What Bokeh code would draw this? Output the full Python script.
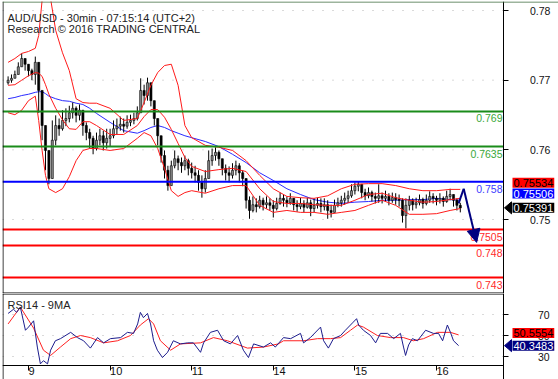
from bokeh.plotting import figure
from bokeh.layouts import column
from bokeh.models import (Range1d, LinearAxis, FixedTicker, Span, Label,
                          Arrow, NormalHead, PolyAnnotation, ColumnDataSource,
                          NumeralTickFormatter)
from bokeh.embed import file_html
from bokeh.resources import INLINE

FONT = "Liberation Sans"

# ---------------- data ----------------
# hourly bars, x = hours from the start of the 9th (weekend removed)
bar_x = list(range(-6, 128))
first_open = 0.7735
close = [
    0.7739, 0.7742, 0.7748, 0.7760, 0.7773, 0.7764,
    0.7754, 0.7748, 0.7767, 0.7723, 0.7668, 0.7629, 0.7585, 0.7645, 0.7668, 0.7663, 0.7676, 0.7679,
    0.7688, 0.7695, 0.7684, 0.7692, 0.7668, 0.7657, 0.7648, 0.7632, 0.7645, 0.7652, 0.7641, 0.7648,
    0.7652, 0.7663, 0.7667, 0.7670, 0.7667, 0.7673, 0.7676, 0.7679, 0.7688, 0.7723, 0.7715, 0.7735,
    0.7707, 0.7679, 0.7652, 0.7621, 0.7598, 0.7574, 0.7605, 0.7616, 0.7610, 0.7605, 0.7613, 0.7601,
    0.7594, 0.7590, 0.7579, 0.7569, 0.7585, 0.7613, 0.7621, 0.7626, 0.7616, 0.7601, 0.7594, 0.7590,
    0.7598, 0.7605, 0.7594, 0.7585, 0.7551, 0.7535, 0.7544, 0.7541, 0.7551, 0.7544, 0.7547, 0.7543,
    0.7538, 0.7546, 0.7554, 0.7551, 0.7547, 0.7554, 0.7544, 0.7541, 0.7546, 0.7540, 0.7547, 0.7538,
    0.7543, 0.7546, 0.7541, 0.7544, 0.7535, 0.7532, 0.7543, 0.7547, 0.7551, 0.7554, 0.7558, 0.7566,
    0.7573, 0.7576, 0.7563, 0.7558, 0.7563, 0.7557, 0.7554, 0.7558, 0.7554, 0.7557, 0.7551, 0.7555,
    0.7552, 0.7551, 0.7527, 0.7543, 0.7551, 0.7544, 0.7547, 0.7552, 0.7546, 0.7551, 0.7557, 0.7554,
    0.7551, 0.7554, 0.7549, 0.7557, 0.7560, 0.7551, 0.7543, 0.7539,
]
high = [
    0.7745, 0.7748, 0.7754, 0.7767, 0.7781, 0.7773,
    0.7764, 0.7757, 0.7776, 0.7751, 0.7699, 0.7668, 0.7629, 0.7676, 0.7684, 0.7679, 0.7692, 0.7695,
    0.7699, 0.7704, 0.7698, 0.7701, 0.7688, 0.7673, 0.7663, 0.7652, 0.7657, 0.7663, 0.7660, 0.7663,
    0.7663, 0.7676, 0.7679, 0.7682, 0.7679, 0.7684, 0.7685, 0.7688, 0.7698, 0.7742, 0.7732, 0.7743,
    0.7723, 0.7707, 0.7676, 0.7652, 0.7629, 0.7605, 0.7613, 0.7629, 0.7621, 0.7618, 0.7621, 0.7616,
    0.7610, 0.7605, 0.7598, 0.7590, 0.7598, 0.7629, 0.7632, 0.7634, 0.7629, 0.7616, 0.7607, 0.7604,
    0.7609, 0.7613, 0.7609, 0.7598, 0.7582, 0.7557, 0.7557, 0.7554, 0.7558, 0.7555, 0.7557, 0.7554,
    0.7551, 0.7555, 0.7563, 0.7560, 0.7557, 0.7562, 0.7554, 0.7551, 0.7555, 0.7551, 0.7555, 0.7552,
    0.7554, 0.7555, 0.7554, 0.7554, 0.7551, 0.7544, 0.7552, 0.7555, 0.7558, 0.7563, 0.7566, 0.7576,
    0.7579, 0.7580, 0.7576, 0.7569, 0.7571, 0.7566, 0.7563, 0.7576, 0.7563, 0.7566, 0.7562, 0.7563,
    0.7562, 0.7560, 0.7554, 0.7554, 0.7558, 0.7554, 0.7555, 0.7560, 0.7555, 0.7560, 0.7565, 0.7562,
    0.7558, 0.7562, 0.7557, 0.7566, 0.7569, 0.7560, 0.7554, 0.7547,
]
low = [
    0.7732, 0.7735, 0.7742, 0.7751, 0.7764, 0.7754,
    0.7745, 0.7739, 0.7732, 0.7688, 0.7645, 0.7598, 0.7576, 0.7613, 0.7637, 0.7652, 0.7660, 0.7667,
    0.7673, 0.7679, 0.7673, 0.7676, 0.7652, 0.7645, 0.7632, 0.7623, 0.7629, 0.7637, 0.7629, 0.7632,
    0.7635, 0.7648, 0.7654, 0.7660, 0.7657, 0.7663, 0.7667, 0.7670, 0.7676, 0.7688, 0.7701, 0.7707,
    0.7698, 0.7668, 0.7637, 0.7610, 0.7585, 0.7566, 0.7582, 0.7601, 0.7598, 0.7594, 0.7598, 0.7590,
    0.7585, 0.7579, 0.7566, 0.7555, 0.7563, 0.7585, 0.7605, 0.7613, 0.7605, 0.7590, 0.7582, 0.7579,
    0.7585, 0.7590, 0.7579, 0.7573, 0.7538, 0.7522, 0.7532, 0.7532, 0.7538, 0.7535, 0.7538, 0.7535,
    0.7524, 0.7535, 0.7544, 0.7541, 0.7540, 0.7544, 0.7535, 0.7533, 0.7537, 0.7532, 0.7538, 0.7526,
    0.7532, 0.7538, 0.7532, 0.7535, 0.7522, 0.7524, 0.7532, 0.7540, 0.7541, 0.7544, 0.7547, 0.7555,
    0.7560, 0.7565, 0.7554, 0.7551, 0.7554, 0.7549, 0.7546, 0.7547, 0.7546, 0.7549, 0.7543, 0.7547,
    0.7544, 0.7541, 0.7516, 0.7507, 0.7535, 0.7535, 0.7538, 0.7543, 0.7538, 0.7543, 0.7547, 0.7546,
    0.7543, 0.7546, 0.7541, 0.7547, 0.7551, 0.7541, 0.7535, 0.7532,
]

band_x = [-6, -4, -2, 0, 2, 3, 4, 5, 6, 8, 10, 12, 14, 16, 18, 20, 24, 28, 32, 34, 36, 38,
          40, 42, 44, 46, 48, 52, 56, 60, 64, 68, 72, 76, 80, 84, 88, 92, 96, 100, 104,
          108, 112, 116, 120, 124, 127]
bb_upper = [0.7767, 0.7773, 0.7781, 0.7784, 0.7789, 0.7809, 0.7864, 0.7887, 0.7883,
            0.7817, 0.7782, 0.7754, 0.7710, 0.7704, 0.7703, 0.7703,
            0.7695, 0.7676, 0.7679, 0.7704, 0.7731, 0.7751, 0.7762, 0.7764, 0.7731, 0.7668, 0.7649,
            0.7637, 0.7634, 0.7629, 0.7613, 0.7590, 0.7569, 0.7557, 0.7555, 0.7554, 0.7558,
            0.7569, 0.7576, 0.7577, 0.7577, 0.7574, 0.7569, 0.7566, 0.7566, 0.7568, 0.7568]
bb_middle = [0.7731, 0.7732, 0.7739, 0.7746, 0.7751, 0.7750, 0.7745, 0.7732, 0.7717,
             0.7695, 0.7677, 0.7663, 0.7662, 0.7674, 0.7674, 0.7668,
             0.7654, 0.7654, 0.7668, 0.7682, 0.7693, 0.7693, 0.7681, 0.7662, 0.7640, 0.7618, 0.7604,
             0.7596, 0.7599, 0.7601, 0.7596, 0.7569, 0.7549, 0.7546, 0.7546, 0.7544, 0.7543,
             0.7543, 0.7551, 0.7560, 0.7562, 0.7555, 0.7551, 0.7548, 0.7549, 0.7552, 0.7554]
bb_lower = [0.7688, 0.7685, 0.7692, 0.7707, 0.7714, 0.7676, 0.7629, 0.7590, 0.7569,
            0.7563, 0.7569, 0.7588, 0.7613, 0.7629, 0.7632, 0.7632,
            0.7629, 0.7632, 0.7648, 0.7657, 0.7652, 0.7632, 0.7601, 0.7566, 0.7557, 0.7563, 0.7566,
            0.7562, 0.7569, 0.7574, 0.7574, 0.7543, 0.7532, 0.7535, 0.7532, 0.7532, 0.7529,
            0.7532, 0.7535, 0.7543, 0.7551, 0.7543, 0.7529, 0.7529, 0.7530, 0.7535, 0.7538]
ma_blue = [0.7710, 0.7712, 0.7715, 0.7717, 0.7720, 0.7721, 0.7721, 0.7718, 0.7714,
           0.7710, 0.7707, 0.7706, 0.7703, 0.7701, 0.7695, 0.7687,
           0.7673, 0.7660, 0.7656, 0.7660, 0.7665, 0.7668, 0.7665, 0.7660, 0.7656, 0.7652, 0.7649,
           0.7643, 0.7635, 0.7623, 0.7610, 0.7594, 0.7582, 0.7569, 0.7560, 0.7552, 0.7548,
           0.7546, 0.7548, 0.7549, 0.7551, 0.7551, 0.7552, 0.7552, 0.7554, 0.7552, 0.7551]

levels = [0.769, 0.7635, 0.758, 0.7505, 0.748, 0.743]
level_kinds = ["green", "green", "blue", "red", "red", "red"]

forecast_x = [126.5, 128.0, 131.8]
forecast_y = [0.7546, 0.7569, 0.7485]

price_ticks = [0.75, 0.76, 0.77, 0.78]
last_price = 0.75391
last_bb_mid = 0.75534
last_ma = 0.75506

rsi_x = [-6, -4.4, -3.5, -2.4, -0.9, 0, 1.5, 2.6, 3.5, 4.4, 5.6, 6.5, 7.9, 9.4, 12.4,
         14.4, 16.2, 18.2, 20.3, 22.1, 24.1, 27.1, 29.1, 30.9, 32.1, 32.9, 33.8, 35, 35.9,
         36.8, 37.9, 39.4, 40.9, 42.6, 44.7, 46.8, 48.5, 50.6, 51.5, 53.5, 55.6, 57.4, 59.4,
         61.5, 63.2, 64.7, 66.2, 69.1, 71.2, 72.6, 75, 77.1, 80, 80.9, 82.9, 85.9, 86.8, 88.2,
         89.7, 91.8, 93.2, 95.3, 96.5, 97.1, 98.5, 100.6, 102.1, 103.5, 105.6, 107.4, 109.4,
         110.3, 110.9, 111.8, 112.9, 114.4, 116.8, 119.1, 120.6, 121.8, 123.2, 124.1, 125, 126.5]
rsi = [71, 75, 72, 77, 55, 58, 64, 39, 23, 26, 23, 36, 45, 47, 53,
       48, 45, 38, 48, 43, 47, 48, 53, 52, 61, 72, 67, 71, 61,
       45, 36, 29, 34, 45, 42, 43, 43, 34, 43, 53, 55, 45, 42,
       50, 36, 29, 42, 39, 43, 39, 48, 47, 52, 43, 48, 58, 45, 38,
       47, 50, 55, 62, 66, 60, 55, 50, 43, 52, 52, 47, 52,
       39, 31, 41, 47, 45, 55, 52, 52, 45, 60, 53, 45, 40.35]
rsi_ma_x = [-6, -2.4, 1.5, 4.4, 6.5, 9.4, 12.4, 15.3, 18.2, 22.1, 26.2, 30, 32.9, 35.3,
            36.8, 38.8, 41.8, 44.7, 50.6, 54.4, 58.5, 64.4, 69.1, 73.5, 75, 80.9, 85, 88.8,
            91.8, 94.7, 96.8, 98.5, 102.6, 106.5, 110.3, 113.2, 116.2, 120.3, 124.1, 126.5]
rsi_ma = [61, 77, 57, 36, 31, 39, 47, 50, 48, 43, 45, 50, 60, 66,
          61, 45, 36, 42, 43, 48, 45, 38, 39, 42, 45, 45, 47, 47,
          48, 55, 60, 58, 50, 48, 48, 45, 47, 53, 53, 50.56]
rsi_ticks = [30, 50, 70]
last_rsi = 40.3483
last_rsi_ma = 50.5554

day_ticks = [0, 24, 48, 72, 96, 120]
day_labels = ["9", "10", "11", "14", "15", "16"]

# ---------------- layout / styling ----------------
NAVY = "#000080"
LEVEL_LINE = {"green": "#1a8c1a", "blue": "#0000ff", "red": "#ff0000"}
LEVEL_TEXT = {"green": "#3aa83a", "blue": "#3c3cff", "red": "#ff2a2a"}
W = 558
X0, X1 = -7.647, 155.882       # frame spans the whole width
X_AXIS = 139.85                # where the price axis sits
X_LEFT = -7.5                  # left border line
MAIN_Y = (0.740496, 0.786227)
MAIN_FRAME_H = 292
TICK_Y = (0.739378, 0.781292)  # scale used by the printed price axis
RSI_Y = (7.143, 90.0)
RSI_FRAME_H = 87
RSI_BASE = 21.9                # where the time axis sits
DOTS = "#b4b4b4"


def base_fig(height, yr, top):
    f = figure(width=W, height=height, x_range=Range1d(X0, X1), y_range=Range1d(*yr),
               output_backend="svg", toolbar_location=None,
               x_axis_location=None, y_axis_location=None,
               min_border_left=2, min_border_right=0, min_border_top=top, min_border_bottom=0)
    f.outline_line_color = None
    f.background_fill_color = "white"
    f.border_fill_color = "white"
    f.xgrid.visible = False
    f.ygrid.visible = False
    f.add_layout(Span(location=X_LEFT, dimension="height", line_color="black", line_width=1))
    return f


def value_box(fig, value, yrange, frame_h, text, fill, color, y_off=0, pointer=False):
    fig.add_layout(Label(x=510, x_units="screen", y=value, y_offset=y_off, text=text,
                         text_align="left", text_baseline="middle",
                         background_fill_color=fill, background_fill_alpha=1.0,
                         text_color=color, text_font=FONT, text_font_size="11px", padding=1))
    if pointer:
        sy = (value - yrange[0]) / (yrange[1] - yrange[0]) * frame_h + y_off
        fig.add_layout(PolyAnnotation(xs=[502, 509, 509], ys=[sy, sy + 6, sy - 6],
                                      xs_units="screen", ys_units="screen",
                                      fill_color=fill, fill_alpha=1.0, line_color=fill,
                                      line_alpha=1.0))


# ---------------- main price panel ----------------
p = base_fig(293, MAIN_Y, 1)
p.extra_y_ranges = {"ticks": Range1d(*TICK_Y)}

yax = LinearAxis(y_range_name="ticks", fixed_location=X_AXIS,
                 ticker=FixedTicker(ticks=price_ticks),
                 formatter=NumeralTickFormatter(format="0.00"),
                 major_tick_out=5, major_tick_in=0, minor_tick_out=0, minor_tick_in=0,
                 major_tick_line_color="black", axis_line_color="black",
                 major_label_standoff=21, major_label_text_font=FONT,
                 major_label_text_font_size="10.5px", major_label_text_color="#111111")
p.add_layout(yax, "right")

# top border (full width) and bottom border (up to the axis)
p.add_layout(Span(location=MAIN_Y[1] - 0.5 / 6385, dimension="width",
                  line_color="#3d6b3d", line_width=1))
p.segment(x0=[X0], y0=[MAIN_Y[0] + 0.5 / 6385], x1=[X_AXIS], y1=[MAIN_Y[0] + 0.5 / 6385],
          line_color="black", line_width=1)
# dotted guide lines at the printed price ticks
p.segment(x0=[X0] * len(price_ticks), y0=price_ticks, x1=[X_AXIS] * len(price_ticks),
          y1=price_ticks, y_range_name="ticks", line_color=DOTS, line_dash="1 9", line_width=1)

opens = [first_open] + close[:-1]
tops = [max(o, c) for o, c in zip(opens, close)]
bots = [min(o, c) for o, c in zip(opens, close)]
his = [max(h, t) for h, t in zip(high, tops)]
los = [min(l, b) for l, b in zip(low, bots)]
fills = ["#8a8a8a" if c >= o else "#000000" for o, c in zip(opens, close)]
src = ColumnDataSource(dict(x=bar_x, top=tops, bottom=bots, high=his, low=los, fill=fills))

p.line(band_x, ma_blue, line_color="#2a2aff", line_width=1)
p.segment(x0="x", y0="low", x1="x", y1="high", source=src, line_color="black", line_width=1)
p.vbar(x="x", width=0.62, top="top", bottom="bottom", source=src,
       fill_color="fill", line_color="black", line_width=0.6)
for band in (bb_upper, bb_middle, bb_lower):
    p.line(band_x, band, line_color="#ff1a1a", line_width=1)

p.segment(x0=[X0] * len(levels), y0=levels, x1=[X_AXIS] * len(levels), y1=levels,
          line_color=[LEVEL_LINE[k] for k in level_kinds], line_width=2)
for v, kind in zip(levels, level_kinds):
    p.add_layout(Label(x=500, x_units="screen", y=v, y_offset=-7, text=f"{v:g}",
                       text_align="right", text_baseline="alphabetic",
                       text_color=LEVEL_TEXT[kind], text_font=FONT, text_font_size="10.5px"))

p.line(forecast_x[:2], forecast_y[:2], line_color=NAVY, line_width=2)
p.add_layout(Arrow(end=NormalHead(size=13, fill_color=NAVY, line_color=NAVY),
                   x_start=forecast_x[1], y_start=forecast_y[1],
                   x_end=forecast_x[2], y_end=forecast_y[2],
                   line_color=NAVY, line_width=2))

p.add_layout(Label(x=5, y=276, x_units="screen", y_units="screen",
                   text="AUD/USD - 30min - 07:15:14 (UTC+2)", text_font=FONT,
                   text_font_size="11px", text_color="#222222", text_baseline="alphabetic"))
p.add_layout(Label(x=5, y=265, x_units="screen", y_units="screen",
                   text="Research \u00a9 2016 TRADING CENTRAL", text_font=FONT,
                   text_font_size="11px", text_color="#222222", text_baseline="alphabetic"))

value_box(p, last_bb_mid, MAIN_Y, MAIN_FRAME_H, f"{last_bb_mid:.5f}", "#ff0000", "black", y_off=16)
value_box(p, last_ma, MAIN_Y, MAIN_FRAME_H, f"{last_ma:.5f}", "#0000ff", "white", y_off=7)
value_box(p, last_price, MAIN_Y, MAIN_FRAME_H, f"{last_price:.5f}", "#000000", "white", pointer=True)

# ---------------- RSI panel ----------------
q = base_fig(87, RSI_Y, 0)
q.x_range = p.x_range

rax = LinearAxis(fixed_location=X_AXIS, ticker=FixedTicker(ticks=rsi_ticks),
                 formatter=NumeralTickFormatter(format="0"),
                 major_tick_out=5, major_tick_in=0, minor_tick_out=0, minor_tick_in=0,
                 axis_line_color="black", major_label_standoff=29, major_label_text_font=FONT,
                 major_label_text_font_size="10.5px", major_label_text_color="#111111")
q.add_layout(rax, "right")
bax = LinearAxis(fixed_location=RSI_BASE, bounds=(X0, X_AXIS),
                 ticker=FixedTicker(ticks=day_ticks),
                 major_label_overrides={d: s for d, s in zip(day_ticks, day_labels)},
                 major_label_orientation=-0.0001,
                 major_tick_out=5, major_tick_in=0, minor_tick_out=0, minor_tick_in=0,
                 axis_line_color="black", major_label_standoff=1, major_label_text_font=FONT,
                 major_label_text_font_size="11px", major_label_text_color="#111111")
q.add_layout(bax, "below")

q.segment(x0=[X0], y0=[RSI_Y[1] - 0.5 / 1.05], x1=[X_AXIS], y1=[RSI_Y[1] - 0.5 / 1.05],
          line_color="black", line_width=1)
q.segment(x0=[X0] * len(rsi_ticks), y0=rsi_ticks, x1=[X_AXIS] * len(rsi_ticks), y1=rsi_ticks,
          line_color=DOTS, line_dash="1 9", line_width=1)

q.line(rsi_ma_x, rsi_ma, line_color="#ff2020", line_width=1)
q.line(rsi_x, rsi, line_color="#1c1c8c", line_width=1)

q.add_layout(Label(x=5, y=76, x_units="screen", y_units="screen", text="RSI14 - 9MA",
                   text_font=FONT, text_font_size="11px", text_color="#222222",
                   text_baseline="alphabetic"))

value_box(q, last_rsi_ma, RSI_Y, RSI_FRAME_H, f"{last_rsi_ma:.4f}", "#ff0000", "black", y_off=2)
value_box(q, last_rsi, RSI_Y, RSI_FRAME_H, f"{last_rsi:.4f}", NAVY, "white", pointer=True)

layout = column(p, q, spacing=0)
open("out.html", "w").write(file_html(layout, INLINE))
